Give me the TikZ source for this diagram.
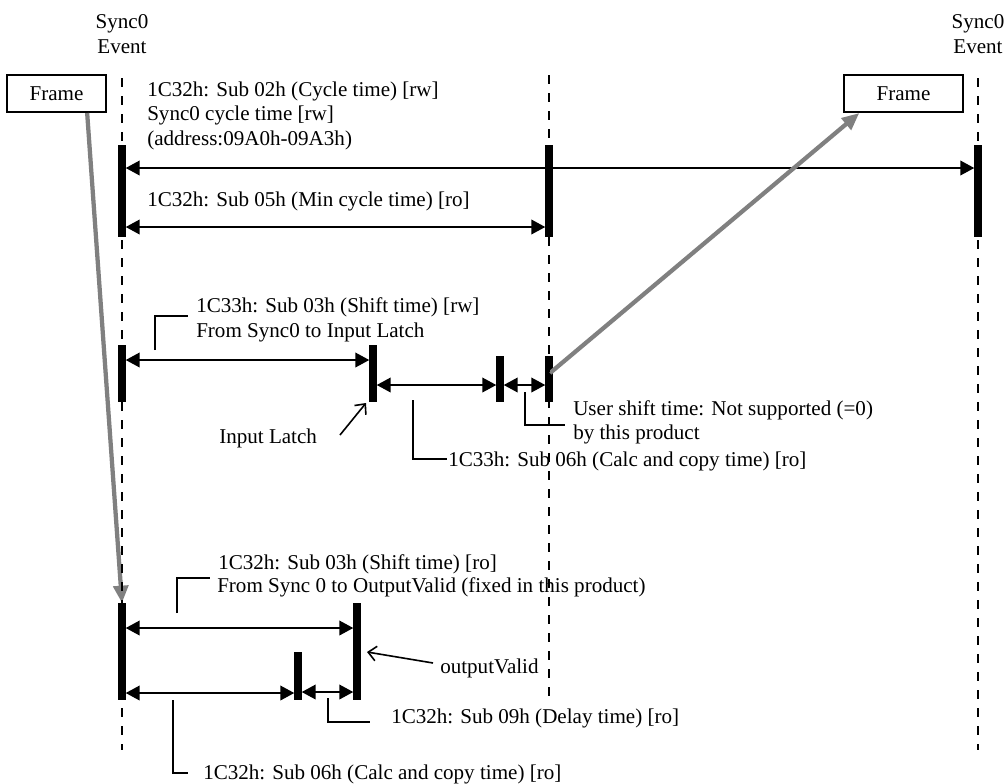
\documentclass[tikz,border=0pt]{standalone}
\usepackage{fontspec}
\setmainfont{Liberation Serif}
\usetikzlibrary{arrows.meta}

\begin{document}
\begin{tikzpicture}[
  x=0.75pt, y=-0.75pt,
  lbl/.style={anchor=base west, inner sep=0pt, font=\fontsize{15.8}{18}\selectfont},
  clbl/.style={lbl, anchor=base},
  framebox/.style={draw, line width=1.3pt, inner sep=0pt, minimum height=28pt, font=\fontsize{15.8}{18}\selectfont},
  syncline/.style={line width=2.2pt, dash pattern=on 7pt off 6.5pt},
  bar/.style={line width=5.6pt},
  dim/.style={{Triangle[length=10.5pt,width=11pt]}-{Triangle[length=10.5pt,width=11pt]}, line width=1.4pt, shorten <=2.8pt, shorten >=2.8pt},
  lead/.style={line width=1.2pt},
  ptr/.style={-{Straight Barb[length=6pt,width=11pt]}, line width=1.2pt},
  frarr/.style={-{Triangle[length=13pt,width=11pt]}, line width=3.2pt, black!50}
]
\useasboundingbox (0,0) rectangle (1006,783);

% Sync0 events and frames
\node[clbl] (sl1) at (122,28) {Sync0};
\node[clbl] (sl2) at (122,53) {Event};
\node[clbl] (sr1) at (978,28) {Sync0};
\node[clbl] (sr2) at (978,53) {Event};
\node[framebox, minimum width=74pt] (fl) at (56.5,93.5) {Frame};
\node[framebox, minimum width=89pt] (fr) at (903.5,93.5) {Frame};

% Cycle time
\node[lbl] (c1) at (147,96) {1C32h: Sub 02h (Cycle time) [rw]};
\node[lbl] (c2) at (147,120.5) {Sync0 cycle time [rw]};
\node[lbl] (c3) at (147,145) {(address:09A0h-09A3h)};
\node[lbl] (c4) at (147,206) {1C32h: Sub 05h (Min cycle time) [ro]};

\coordinate (b1t) at (122,145); \coordinate (b1b) at (122,237);
\coordinate (b2t) at (549,145); \coordinate (b2b) at (549,237);
\coordinate (b3t) at (978,145); \coordinate (b3b) at (978,237);
\draw[bar] (b1t) -- (b1b);
\draw[bar] (b2t) -- (b2b);
\draw[bar] (b3t) -- (b3b);
\coordinate (cyl) at (122,168); \coordinate (cyr) at (978,168);
\coordinate (mnl) at (122,227); \coordinate (mnr) at (549,227);
\draw[dim] (cyl) -- (cyr);
\draw[dim] (mnl) -- (mnr);

% Input side
\node[lbl] (i1) at (196,312) {1C33h: Sub 03h (Shift time) [rw]};
\node[lbl] (i2) at (196,337) {From Sync0 to Input Latch};
\node[lbl] (il) at (219,443) {Input Latch};
\node[lbl] (u1) at (573,415) {User shift time: Not supported (=0)};
\node[lbl] (u2) at (573,439) {by this product};
\node[lbl] (i3) at (448,466) {1C33h: Sub 06h (Calc and copy time) [ro]};

\coordinate (ia) at (122,345);  \coordinate (iab) at (122,402);
\coordinate (ib) at (373,345);  \coordinate (ibb) at (373,402);
\coordinate (ic) at (500,356);  \coordinate (icb) at (500,402);
\coordinate (id) at (549,356);  \coordinate (idb) at (549,402);
\draw[bar] (ia) -- (iab);
\draw[bar] (ib) -- (ibb);
\draw[bar] (ic) -- (icb);
\draw[bar] (id) -- (idb);
\coordinate (s1l) at (122,360); \coordinate (s1r) at (373,360);
\coordinate (s2l) at (373,385); \coordinate (s2r) at (500,385);
\coordinate (s3r) at (549,385);
\draw[dim] (s1l) -- (s1r);
\draw[dim] (s2l) -- (s2r);
\draw[dim] (s2r) -- (s3r);
\coordinate (q1) at (155,350); \coordinate (q1e) at (188,316);
\coordinate (q2) at (413,400); \coordinate (q2e) at (447,459);
\coordinate (q3) at (525,392); \coordinate (q3e) at (565,425);
\draw[lead] (q1) |- (q1e);
\draw[lead] (q2) |- (q2e);
\draw[lead] (q3) |- (q3e);
\coordinate (ilp) at (340,435); \coordinate (ilq) at (366,403);
\draw[ptr] (ilp) -- (ilq);

% Output side
\node[lbl] (o1) at (218,569) {1C32h: Sub 03h (Shift time) [ro]};
\node[lbl] (o2) at (217,592) {From Sync 0 to OutputValid (fixed in this product)};
\node[lbl] (ov) at (440,673) {outputValid};
\node[lbl] (o3) at (391,723) {1C32h: Sub 09h (Delay time) [ro]};
\node[lbl] (o4) at (203,779) {1C32h: Sub 06h (Calc and copy time) [ro]};

\coordinate (oa) at (122,603);  \coordinate (oab) at (122,700);
\coordinate (ob) at (357,603);  \coordinate (obb) at (357,700);
\coordinate (oc) at (298,652);  \coordinate (ocb) at (298,700);
\draw[bar] (oa) -- (oab);
\draw[bar] (ob) -- (obb);
\draw[bar] (oc) -- (ocb);
\coordinate (t1l) at (122,628); \coordinate (t1r) at (357,628);
\coordinate (t2l) at (122,693); \coordinate (t2r) at (298,693);
\coordinate (t3l) at (298,692); \coordinate (t3r) at (357,692);
\draw[dim] (t1l) -- (t1r);
\draw[dim] (t2l) -- (t2r);
\draw[dim] (t3l) -- (t3r);
\coordinate (r1) at (177,613); \coordinate (r1e) at (210,578);
\coordinate (r2) at (328,698); \coordinate (r2e) at (370,722);
\coordinate (r3) at (173,700); \coordinate (r3e) at (188,773);
\draw[lead] (r1) |- (r1e);
\draw[lead] (r2) |- (r2e);
\draw[lead] (r3) |- (r3e);
\coordinate (ovp) at (433,663); \coordinate (ovq) at (367,652);
\draw[ptr] (ovp) -- (ovq);

% Frame transfer
\coordinate (fin) at (550,373);
\draw[frarr] ([xshift=23pt]fl.south) -- (oa);
\draw[frarr] (fin) -- ([xshift=12pt]fr.south west);

% Sync lines
\coordinate (dl1) at (122,78); \coordinate (dl2) at (122,750);
\coordinate (dm1) at (549,75); \coordinate (dm2) at (549,700);
\coordinate (dr1) at (978,78); \coordinate (dr2) at (978,750);
\draw[syncline] (dl1) -- (dl2);
\draw[syncline] (dm1) -- (dm2);
\draw[syncline] (dr1) -- (dr2);

\end{tikzpicture}
\end{document}
